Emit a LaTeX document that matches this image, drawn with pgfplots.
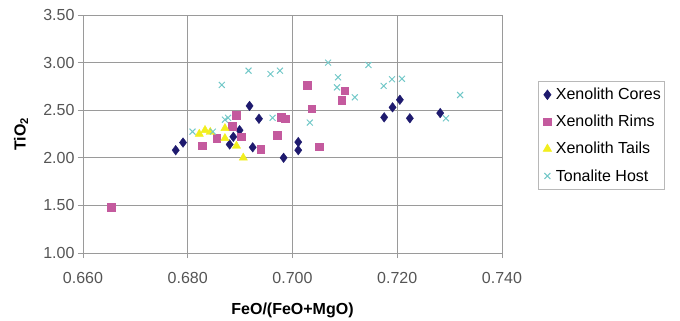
\documentclass[border=0pt]{standalone}
\usepackage{pgfplots}
\pgfplotsset{compat=1.18}
\usepackage{fontspec}
\setmainfont{Liberation Sans}
\definecolor{cores}{HTML}{1E1A6E}
\definecolor{rims}{HTML}{C45A9E}
\definecolor{tails}{HTML}{F2EE1E}
\definecolor{host}{HTML}{72C8C8}
\definecolor{gridc}{HTML}{9A9A9A}
\definecolor{tickc}{HTML}{555555}
\begin{document}
\begin{tikzpicture}
\begin{axis}[
  scale only axis, width=419bp, height=238bp,
  xmin=0.660, xmax=0.740, ymin=1.00, ymax=3.50,
  xtick={0.660,0.680,0.700,0.720,0.740},
  ytick={1.00,1.50,2.00,2.50,3.00,3.50},
  grid=major, major grid style={gridc, line width=0.8bp},
  axis line style={gridc, line width=0.8bp},
  tick style={gridc, line width=0.8bp},
  tick align=outside, major tick length=5bp,
  xtick pos=bottom, ytick pos=left,
  /pgf/number format/assume math mode=true,
  xticklabel style={yshift=-11bp, /pgf/number format/fixed, /pgf/number format/fixed zerofill, /pgf/number format/precision=3},
  yticklabel style={/pgf/number format/fixed, /pgf/number format/fixed zerofill, /pgf/number format/precision=2},
  tick label style={font=\fontsize{16bp}{19bp}\selectfont, text=tickc},
  xlabel={\textbf{FeO/(FeO+MgO)}},
  ylabel={\textbf{TiO\textsubscript{2}}},
  label style={font=\fontsize{16bp}{19bp}\selectfont},
  xlabel style={at={(axis description cs:0.5,0)}, anchor=center, yshift=-57bp},
  ylabel style={at={(axis description cs:0,0.5)}, anchor=center, yshift=62bp},
  legend style={at={(axis description cs:1.085,0.723)}, anchor=north west,
    draw=gridc!70, line width=0.6bp, font=\fontsize{16bp}{19bp}\selectfont,
    row sep=10bp, inner xsep=1bp, inner ysep=5bp},
  legend image code/.code={\path (-5bp,0bp) (9bp,0bp); \draw[#1] plot coordinates {(3bp,0bp)};},
  legend cell align=left,
  clip=false,
]
\addplot[only marks, mark=diamond*, mark size=4.8bp, color=cores] coordinates {
(0.6777,2.08) (0.6791,2.16) (0.6880,2.14) (0.6887,2.22) (0.6899,2.29)
(0.6918,2.545) (0.6936,2.41) (0.6924,2.11) (0.6983,2.00) (0.7011,2.165)
(0.7011,2.08) (0.7175,2.425) (0.7191,2.53) (0.7205,2.61) (0.7224,2.415)
(0.7282,2.47)
};
\addlegendentry{Xenolith Cores}
\addplot[only marks, mark=square*, mark size=3.8bp, color=rims] coordinates {
(0.6654,1.48) (0.6828,2.127) (0.6855,2.205) (0.6885,2.33) (0.6892,2.445)
(0.6902,2.22) (0.6939,2.09) (0.6971,2.24) (0.6978,2.425) (0.6986,2.41)
(0.7028,2.765) (0.7037,2.516) (0.7051,2.117) (0.7094,2.607) (0.7100,2.705)
};
\addlegendentry{Xenolith Rims}
\addplot[only marks, mark=triangle*, mark size=4.8bp, color=tails] coordinates {
(0.6822,2.25) (0.6833,2.29) (0.6843,2.27) (0.6871,2.31) (0.6871,2.205)
(0.6893,2.125) (0.6906,2.00)
};
\addlegendentry{Xenolith Tails}
\addplot[only marks, mark=x, mark size=4.2bp, color=host, line width=1bp] coordinates {
(0.6809,2.275) (0.6848,2.275) (0.6865,2.765) (0.6871,2.40) (0.6877,2.42)
(0.6916,2.915) (0.6958,2.88) (0.6976,2.915) (0.6962,2.42) (0.7033,2.37)
(0.7068,3.00) (0.7087,2.845) (0.7085,2.74) (0.7119,2.635) (0.7145,2.975)
(0.7174,2.755) (0.7190,2.825) (0.7209,2.83) (0.7293,2.415) (0.7320,2.66)
};
\addlegendentry{Tonalite Host}
\end{axis}
\pgfresetboundingbox
\path[use as bounding box] (-83bp,-68bp) rectangle (597bp,253bp);
\end{tikzpicture}
\end{document}
